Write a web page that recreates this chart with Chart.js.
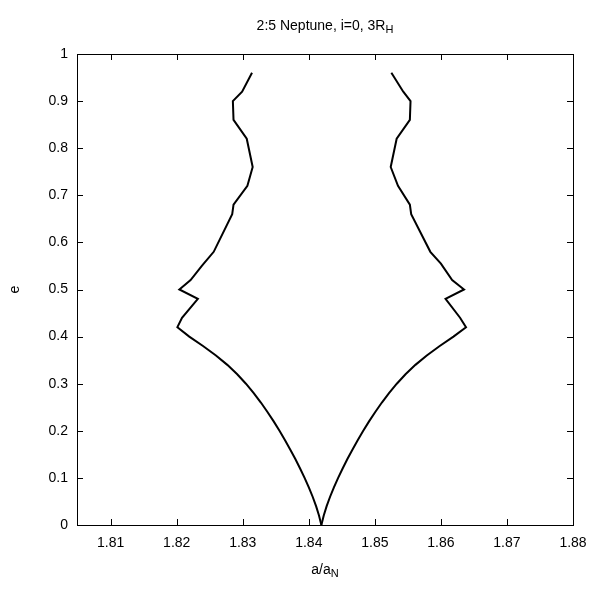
<!DOCTYPE html>
<html>
<head>
<meta charset="utf-8">
<script src="https://cdn.jsdelivr.net/npm/chart.js@4"></script>
<style>
  body { margin: 0; background: #fff; }
  #box { width: 600px; height: 600px; }
</style>
</head>
<body>
<div id="box"><canvas id="grafico"></canvas></div>
<script>
// eccentricity values, top of the branch to the bottom
const eLeft = [0.96, 0.92, 0.90, 0.86, 0.82, 0.76, 0.72, 0.68, 0.66, 0.58, 0.55, 0.52, 0.50, 0.48, 0.44, 0.42,
    0.40, 0.38, 0.36, 0.34, 0.32, 0.30, 0.28, 0.26, 0.24, 0.22, 0.20, 0.18, 0.16, 0.14, 0.12, 0.10, 0.08, 0.06, 0.04, 0.02, 0];
const aLeft = [1.8314, 1.8299, 1.8285, 1.8286, 1.8306, 1.8315, 1.8307, 1.8286, 1.8284, 1.8256, 1.8238, 1.8221, 1.8204, 1.8232, 1.8208, 1.8201,
    1.82190, 1.82398, 1.82594, 1.82766, 1.82916, 1.83048, 1.83166, 1.83274, 1.83374, 1.83468, 1.83556,
    1.83640, 1.83720, 1.83796, 1.83868, 1.83936, 1.84000, 1.84058, 1.84110, 1.84154, 1.8419];

const eRight = [0.96, 0.92, 0.90, 0.86, 0.82, 0.76, 0.72, 0.68, 0.66, 0.58, 0.555, 0.52, 0.50, 0.48, 0.44, 0.42,
    0.40, 0.38, 0.36, 0.34, 0.32, 0.30, 0.28, 0.26, 0.24, 0.22, 0.20, 0.18, 0.16, 0.14, 0.12, 0.10, 0.08, 0.06, 0.04, 0.02, 0];
const aRight = [1.8525, 1.8543, 1.8554, 1.8553, 1.8533, 1.8524, 1.8535, 1.8553, 1.8555, 1.8584, 1.8600, 1.8617, 1.8635, 1.8607, 1.8629, 1.8638,
    1.86190, 1.85982, 1.85786, 1.85614, 1.85464, 1.85332, 1.85214, 1.85106, 1.85006, 1.84912, 1.84824,
    1.84740, 1.84660, 1.84584, 1.84512, 1.84444, 1.84380, 1.84322, 1.84270, 1.84226, 1.8419];

const xTicks = [1.81, 1.82, 1.83, 1.84, 1.85, 1.86, 1.87, 1.88];
const yTicks = [0, 0.1, 0.2, 0.3, 0.4, 0.5, 0.6, 0.7, 0.8, 0.9, 1];
const xMin = 1.8049, xMax = 1.88;

const FONT = '"Liberation Sans", Arial, sans-serif';

function toPoints(xs, ys) {
    let pts = [];
    for (let i = 0; i < xs.length; i++) {
        pts.push({x: xs[i], y: ys[i]});
    }
    return pts;
}

// text with a subscript tail, e.g. 3R + H
function subText(ctx, main, sub, cx, cy, size) {
    ctx.font = size + 'px ' + FONT;
    let w1 = ctx.measureText(main).width;
    ctx.font = Math.round(size * 0.75) + 'px ' + FONT;
    let w2 = ctx.measureText(sub).width;
    let x = cx - (w1 + w2) / 2;
    ctx.textAlign = 'left';
    ctx.textBaseline = 'middle';
    ctx.font = size + 'px ' + FONT;
    ctx.fillText(main, x, cy);
    ctx.font = Math.round(size * 0.75) + 'px ' + FONT;
    ctx.fillText(sub, x + w1, cy + 4);
}

const frame = {
    id: 'frame',
    afterDraw(chart) {
        const ctx = chart.ctx;
        const a = chart.chartArea;
        const sx = chart.scales.x, sy = chart.scales.y;
        ctx.save();
        ctx.strokeStyle = '#000';
        ctx.lineWidth = 1;
        ctx.strokeRect(Math.round(a.left) + 0.5, Math.round(a.top) + 0.5, Math.round(a.right - a.left), Math.round(a.bottom - a.top));
        ctx.beginPath();
        for (let v of xTicks) {
            let px = Math.round(sx.getPixelForValue(v)) + 0.5;
            ctx.moveTo(px, a.bottom); ctx.lineTo(px, a.bottom - 6);
            ctx.moveTo(px, a.top); ctx.lineTo(px, a.top + 6);
        }
        for (let v of yTicks) {
            let py = Math.round(sy.getPixelForValue(v)) + 0.5;
            ctx.moveTo(a.left, py); ctx.lineTo(a.left + 6, py);
            ctx.moveTo(a.right, py); ctx.lineTo(a.right - 6, py);
        }
        ctx.stroke();

        ctx.fillStyle = '#000';
        subText(ctx, '2:5 Neptune, i=0, 3R', 'H', (a.left + a.right) / 2, 26, 14);
        subText(ctx, 'a/a', 'N', (a.left + a.right) / 2, 570, 14);

        ctx.translate(15, (a.top + a.bottom) / 2);
        ctx.rotate(-Math.PI / 2);
        ctx.font = '14px ' + FONT;
        ctx.textAlign = 'center';
        ctx.textBaseline = 'middle';
        ctx.fillText('e', 0, 0);
        ctx.restore();
    }
};

document.addEventListener('DOMContentLoaded', function() {
    let box = document.getElementById('grafico');
    new Chart(box, {
        type: 'scatter',
        data: {
            datasets: [{
                data: toPoints(aLeft, eLeft)
            }, {
                data: toPoints(aRight, eRight)
            }]
        },
        options: {
            responsive: true,
            maintainAspectRatio: false,
            animation: false,
            showLine: true,
            layout: { padding: { top: 54, right: 27, left: 0, bottom: 0 } },
            elements: {
                line: { borderColor: '#000', borderWidth: 2, tension: 0 },
                point: { radius: 0, hoverRadius: 0 }
            },
            plugins: {
                legend: { display: false },
                tooltip: { enabled: false }
            },
            scales: {
                x: {
                    type: 'linear',
                    min: xMin,
                    max: xMax,
                    grid: { display: false, drawTicks: false },
                    border: { display: false },
                    afterBuildTicks: function(scale) {
                        scale.ticks = xTicks.map(v => ({value: v}));
                    },
                    afterFit: function(scale) { scale.height = 75; },
                    ticks: {
                        color: '#000',
                        padding: 10,
                        maxRotation: 0,
                        font: { family: FONT, size: 14 },
                        callback: v => v.toFixed(2)
                    }
                },
                y: {
                    type: 'linear',
                    min: 0,
                    max: 1,
                    grid: { display: false, drawTicks: false },
                    border: { display: false },
                    afterBuildTicks: function(scale) {
                        scale.ticks = yTicks.map(v => ({value: v}));
                    },
                    afterFit: function(scale) { scale.width = 77; },
                    ticks: {
                        color: '#000',
                        padding: 9,
                        font: { family: FONT, size: 14 },
                        callback: v => String(Math.round(v * 10) / 10)
                    }
                }
            }
        },
        plugins: [frame]
    });
});
</script>
</body>
</html>
